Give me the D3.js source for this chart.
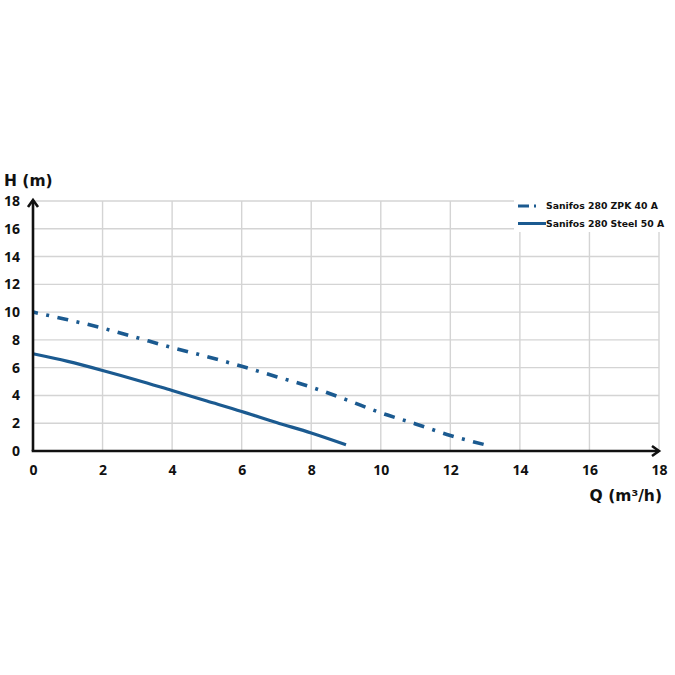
<!DOCTYPE html>
<html>
<head>
<meta charset="utf-8">
<script src="https://cdn.jsdelivr.net/npm/d3@7"></script>
<style>
  html, body { margin: 0; padding: 0; background: #fff; }
  svg { display: block; font-family: "Open Sans", "DejaVu Sans", sans-serif; }
</style>
</head>
<body>
<svg id="chart" width="675" height="675"></svg>
<script>
// ---- data ----
const xTicks = [0, 2, 4, 6, 8, 10, 12, 14, 16, 18];
const yTicks = [0, 2, 4, 6, 8, 10, 12, 14, 16, 18];
const seriesNames = ["Sanifos 280 ZPK 40 A", "Sanifos 280 Steel 50 A"];
const zpkQ = [0, 1, 2, 3, 4, 5, 6, 7, 8, 9, 10, 11, 12, 13];
const zpkH = [10, 9.45, 8.85, 8.15, 7.45, 6.8, 6.1, 5.35, 4.6, 3.7, 2.75, 1.95, 1.12, 0.45];
const steelQ = [0, 1, 2, 3, 4, 5, 6, 7, 8, 9];
const steelH = [7.0, 6.45, 5.8, 5.1, 4.35, 3.6, 2.85, 2.05, 1.3, 0.45];
const yTitle = "H (m)";
const xTitle = "Q (m³/h)";

// ---- layout ----
const svg = d3.select("#chart");
const x = d3.scaleLinear().domain([0, 18]).range([33, 659]);
const y = d3.scaleLinear().domain([0, 18]).range([451, 201]);
const color = "#1b5a90";
const titleFont = "'DejaVu Sans', sans-serif";

// grid
const grid = svg.append("g");
grid.selectAll("line.h").data(yTicks.filter(d => d > 0)).join("line")
  .attr("x1", x(0)).attr("x2", x(18))
  .attr("y1", d => y(d)).attr("y2", d => y(d))
  .attr("stroke", "#d4d4d4").attr("stroke-width", 1.4);
grid.selectAll("line.v").data(xTicks.filter(d => d > 0)).join("line")
  .attr("x1", d => x(d)).attr("x2", d => x(d))
  .attr("y1", y(18)).attr("y2", y(0))
  .attr("stroke", "#d4d4d4").attr("stroke-width", 1.4);

// tick labels through d3 axes
const yAxis = svg.append("g").attr("transform", `translate(${x(0) - 13},0)`)
  .call(d3.axisLeft(y).tickValues(yTicks).tickSize(0).tickPadding(0));
yAxis.select(".domain").remove();
yAxis.selectAll("text").attr("font-size", 14).attr("font-weight", 700)
  .attr("font-family", "'Open Sans', sans-serif").attr("fill", "#111");

const xAxis = svg.append("g").attr("transform", `translate(0,${y(0) + 14})`)
  .call(d3.axisBottom(x).tickValues(xTicks).tickSize(0).tickPadding(0));
xAxis.select(".domain").remove();
xAxis.selectAll("text").attr("font-size", 14).attr("font-weight", 700)
  .attr("font-family", "'Open Sans', sans-serif").attr("fill", "#111");

// curves
const line = d3.line().x(d => x(d[0])).y(d => y(d[1])).curve(d3.curveMonotoneX);
svg.append("path")
  .datum(zpkQ.map((q, i) => [q, zpkH[i]]))
  .attr("d", line).attr("fill", "none").attr("stroke", color)
  .attr("stroke-width", 3.6).attr("stroke-dasharray", "11 8.5 3 8.5")
  .attr("stroke-dashoffset", 6);
svg.append("path")
  .datum(steelQ.map((q, i) => [q, steelH[i]]))
  .attr("d", line).attr("fill", "none").attr("stroke", color)
  .attr("stroke-width", 3.2);

// axis lines with arrows
const ax = svg.append("g").attr("stroke", "#111").attr("fill", "none")
  .attr("stroke-width", 2.6);
ax.append("path").attr("d", `M${x(0)},${y(0)} V${y(18) - 1}`);
ax.append("path").attr("d", `M${x(0) - 1.3},${y(0)} H${x(18)}`);
ax.append("path").attr("d", `M${x(0) - 5},${y(18) + 6} L${x(0)},${y(18) - 1} L${x(0) + 5},${y(18) + 6}`)
  .attr("stroke-linejoin", "miter");
ax.append("path").attr("d", `M${x(18) - 7},${y(0) - 5} L${x(18)},${y(0)} L${x(18) - 7},${y(0) + 5}`)
  .attr("stroke-linejoin", "miter");

// axis titles
svg.append("text").attr("x", 4).attr("y", 186).text(yTitle)
  .attr("font-family", titleFont)
  .attr("font-size", 15.5).attr("font-weight", 700).attr("fill", "#111");
svg.append("text").attr("x", 662).attr("y", 501).attr("text-anchor", "end")
  .attr("font-family", titleFont)
  .attr("font-size", 15.5).attr("font-weight", 700).attr("fill", "#111")
  .text(xTitle);

// legend
const leg = svg.append("g");
leg.append("rect").attr("x", 514).attr("y", 196).attr("width", 161).attr("height", 36)
  .attr("fill", "#fff");
const legRows = [
  { name: seriesNames[0], dash: "11 5 3 50", y: 206 },
  { name: seriesNames[1], dash: null, y: 223.5 }
];
legRows.forEach(r => {
  const l = leg.append("line").attr("x1", 518).attr("x2", 546)
    .attr("y1", r.y).attr("y2", r.y).attr("stroke", color).attr("stroke-width", 3);
  if (r.dash) l.attr("stroke-dasharray", r.dash).attr("x2", 536);
  leg.append("text").attr("x", 546).attr("y", r.y).attr("dy", "0.36em")
    .attr("font-family", titleFont)
    .attr("font-size", 9.3).attr("font-weight", 700).attr("fill", "#111").text(r.name);
});
</script>
</body>
</html>
